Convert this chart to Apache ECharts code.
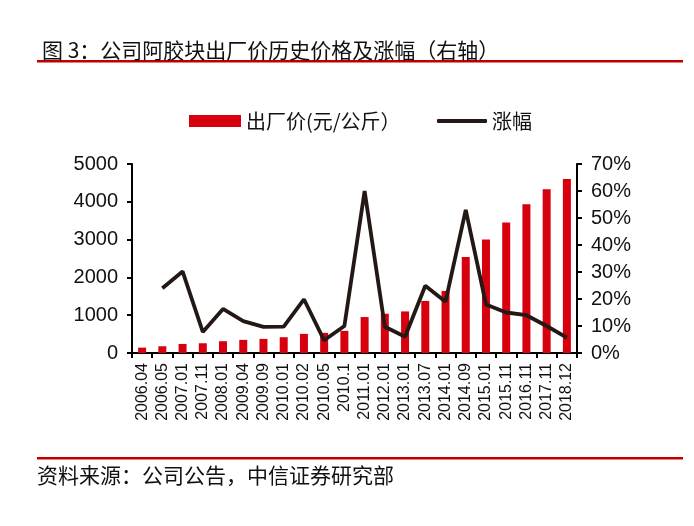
<!DOCTYPE html>
<html>
<head>
<meta charset="utf-8">
<script src="https://cdn.jsdelivr.net/npm/echarts@6/dist/echarts.min.js"></script>
<style>
html,body{margin:0;padding:0;background:#fff;}
#chart{width:694px;height:526px;}
</style>
</head>
<body>
<div id="chart"></div>
<script>
var categories = ['2006.04','2006.05','2007.01','2007.11','2008.01','2009.04','2009.09','2010.01','2010.02','2010.05','2010.1','2011.01','2012.01','2013.01','2013.07','2014.01','2014.09','2015.01','2015.11','2016.11','2017.11','2018.12'];
var priceValues = [142,178,240,258,312,347,373,418,506,533,586,951,1039,1100,1377,1643,2539,3002,3455,3934,4334,4600];
var growthValues = [null,24.0,30.2,7.8,16.3,11.8,9.7,9.8,19.9,4.7,10.0,60.0,9.7,6.0,24.9,19.0,53.0,18.0,15.0,14.0,10.0,5.7];
var titleText = '图 3：公司阿胶块出厂价历史价格及涨幅（右轴）';
var sourceText = '资料来源：公司公告，中信证券研究部';
var seriesNames = ['出厂价(元/公斤）','涨幅'];

var FONT = 'Liberation Sans, Arial, Noto Sans CJK SC, sans-serif';
var CJK = 'Noto Sans CJK SC, sans-serif';
var chart = echarts.init(document.getElementById('chart'), null, {renderer:'canvas'});
chart.setOption({
  animation:false,
  backgroundColor:'#fff',
  title:{
    text:titleText, left:37, top:35,
    textStyle:{fontFamily:CJK, fontSize:21, fontWeight:'normal', color:'#111'}
  },
  graphic:[
    {type:'rect', shape:{x:37,y:60,width:646,height:2.5}, style:{fill:'#c00000'}},
    {type:'rect', shape:{x:37,y:457,width:646,height:2.5}, style:{fill:'#c00000'}},
    {type:'text', left:37, top:465, style:{text:sourceText, font:'21px Noto Sans CJK SC', fill:'#111'}}
  ],
  legend:[
    {left:184, top:106, itemWidth:52, itemHeight:12,
     textStyle:{fontFamily:CJK, fontSize:20, color:'#111'},
     data:[{name:seriesNames[0], icon:'rect'}]},
    {left:432, top:106, itemWidth:50, itemHeight:4, itemGap:6,
     textStyle:{fontFamily:CJK, fontSize:20, color:'#111'},
     data:[{name:seriesNames[1], icon:'roundRect'}]}
  ],
  grid:{left:132, right:117, top:164, bottom:173, containLabel:false},
  xAxis:{
    type:'category', data:categories,
    axisLine:{lineStyle:{color:'#000', width:2}},
    axisTick:{show:true, length:5, lineStyle:{color:'#000', width:2}},
    axisLabel:{rotate:90, interval:0, fontFamily:FONT, fontSize:16, color:'#111', margin:10}
  },
  yAxis:[
    {type:'value', min:0, max:5000, interval:1000, position:'left',
     splitLine:{show:false},
     axisLine:{show:true, lineStyle:{color:'#000', width:2}},
     axisTick:{show:true, length:5, lineStyle:{color:'#000', width:2}},
     axisLabel:{fontFamily:FONT, fontSize:20, color:'#111', margin:14,
       formatter:function(v){return String(v);}}
    },
    {type:'value', min:0, max:70, interval:10, position:'right',
     splitLine:{show:false},
     axisLine:{show:true, lineStyle:{color:'#000', width:2}},
     axisTick:{show:true, length:5, lineStyle:{color:'#000', width:2}},
     axisLabel:{fontFamily:FONT, fontSize:20, color:'#111', margin:14,
       formatter:function(v){return v+'%';}}
    }
  ],
  series:[
    {name:seriesNames[0], type:'bar', data:priceValues, barWidth:8,
     itemStyle:{color:'#d7000f'}},
    {name:seriesNames[1], type:'line', yAxisIndex:1, data:growthValues,
     showSymbol:false, symbol:'none', connectNulls:false,
     lineStyle:{color:'#231815', width:3.8}, itemStyle:{color:'#231815'}}
  ]
});
</script>
</body>
</html>
